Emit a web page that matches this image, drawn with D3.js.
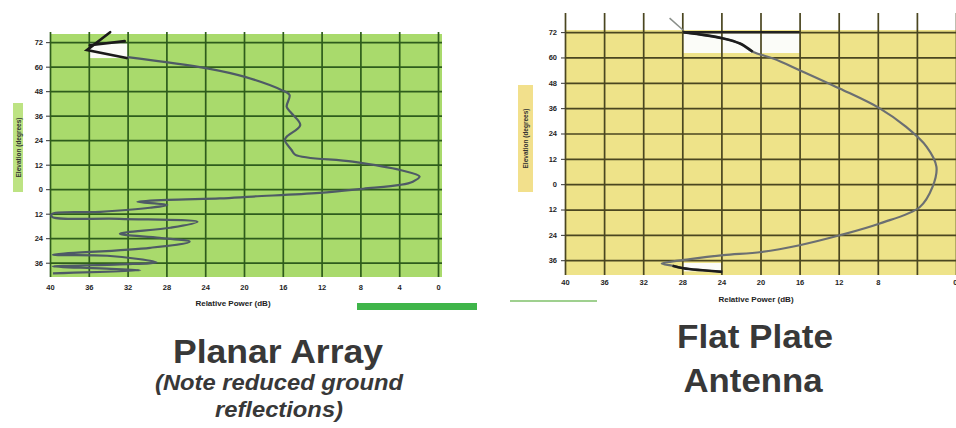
<!DOCTYPE html>
<html>
<head>
<meta charset="utf-8">
<script src="https://cdn.jsdelivr.net/npm/d3@7"></script>
<style>
  body { margin: 0; background: #fff; }
  svg { display: block; font-family: "Liberation Sans", Arial, sans-serif; }
</style>
</head>
<body>
<svg id="chart" width="956" height="428"></svg>
<script>
const svg = d3.select("#chart");

// shared axis ticks
const powerTicks = [-40, -36, -32, -28, -24, -20, -16, -12, -8, -4, 0];
const planarPowerLabels = ["40", "36", "32", "28", "24", "20", "16", "12", "8", "4", "0"];
const flatPowerLabels = ["40", "36", "32", "28", "24", "20", "16", "12", "8", "", "0"];
const elevTicks = [72, 60, 48, 36, 24, 12, 0, -12, -24, -36];
const elevLabels = ["72", "60", "48", "36", "24", "12", "0", "12", "24", "36"];

// [relative power dB, elevation deg]
const planarPattern = [
  [-32.0, 64.7], [-23.8, 59.2], [-19.9, 55.0], [-16.1, 48.5], [-15.3, 46.1],
  [-15.6, 40.4], [-15.1, 37.2], [-14.2, 31.4], [-15.6, 25.7], [-15.8, 24.1],
  [-15.1, 19.2], [-14.7, 16.8], [-8.8, 13.5], [-3.9, 9.4], [-1.9, 6.2],
  [-2.6, 3.7], [-3.9, 2.1], [-7.7, 0.2], [-12.2, -1.8], [-19.1, -3.6],
  [-22.5, -4.5], [-27.9, -5.2], [-31.0, -6.2], [-27.9, -7.7], [-29.7, -9.1],
  [-34.8, -11.1], [-39.8, -12.1], [-39.8, -13.5], [-32.8, -14.5], [-24.8, -16.0],
  [-27.6, -18.9], [-32.8, -21.8], [-28.7, -23.8], [-25.6, -25.7], [-29.7, -28.7],
  [-39.7, -32.1], [-34.1, -32.6], [-29.0, -35.8], [-32.8, -36.8], [-39.7, -37.8],
  [-34.8, -38.8], [-30.7, -39.7], [-39.7, -41.2]
];

const flatPattern = [
  [-27.9, 72.0], [-23.8, 69.0], [-22.1, 66.6], [-20.8, 62.7], [-18.7, 59.5],
  [-16.0, 54.0], [-11.9, 45.3], [-7.8, 35.9], [-5.1, 27.1], [-3.0, 17.7],
  [-2.0, 8.2], [-2.4, -1.3], [-3.7, -10.8], [-7.8, -18.6], [-11.9, -24.2],
  [-16.0, -28.9], [-19.9, -32.1], [-23.8, -33.6], [-27.2, -35.5], [-30.1, -37.6],
  [-29.0, -38.6], [-27.9, -39.8], [-23.9, -41.5]
];
// inked-over parts of the flat plate trace (index ranges)
const flatInked = [[0, 3], [20, 22]];

// hand annotations, in data units
const planarArrow = [[[-33.8, 76.9], [-36.2, 68.1], [-32.1, 64.2]], [[-35.9, 70.5], [-32.3, 72.5]]];
const planarPatch = [[-35.9, 72], [-32.0, 64.2]];
const flatMarks = [[[-27.9, 72], [-16.0, 72]], [[-29.3, 78.6], [-27.9, 72.9]]];
const flatPatches = [[[-27.9, 72], [-16.0, 62.1]], [[-27.9, -37.3], [-23.9, -41.3]]];

const panels = [
  {
    x0: 50, x1: 438, padRight: 4, y0: 34, y1: 277, gridTop: 32,
    elevDomain: [76, -43], bg: "#a9da6c", grid: "#2e5c1c",
    xLabels: planarPowerLabels, xLabelY: 283, titleX: 233, titleY: 306,
    yLabelX: 43, boxX: 13, boxW: 10, boxY: 103, boxH: 89, boxFill: "#bde383",
    pattern: planarPattern, inked: [], trace: "#4e5a66",
    arrows: planarArrow, marks: [], patches: [planarPatch]
  },
  {
    x0: 565, x1: 956, padRight: 0, y0: 30, y1: 275, gridTop: 13,
    elevDomain: [73, -43], bg: "#eee389", grid: "#4a4620",
    xLabels: flatPowerLabels, xLabelY: 278, titleX: 756, titleY: 302,
    yLabelX: 557, boxX: 518, boxW: 15, boxY: 85, boxH: 107, boxFill: "#f2e08c",
    pattern: flatPattern, inked: flatInked, trace: "#6b6f72",
    arrows: [], marks: flatMarks, patches: flatPatches
  }
];

panels.forEach(p => {
  const g = svg.append("g");
  const x = d3.scaleLinear().domain([-40, 0]).range([p.x0, p.x1]);
  const y = d3.scaleLinear().domain(p.elevDomain).range([p.y0, p.y1]);

  g.append("rect")
    .attr("x", p.x0).attr("y", p.y0)
    .attr("width", p.x1 - p.x0 + p.padRight).attr("height", p.y1 - p.y0)
    .attr("fill", p.bg);

  p.patches.forEach(r => {
    g.append("rect")
      .attr("x", x(r[0][0])).attr("y", y(r[0][1]))
      .attr("width", x(r[1][0]) - x(r[0][0])).attr("height", y(r[1][1]) - y(r[0][1]))
      .attr("fill", "#fbfcf8");
  });

  // vertical grid
  g.append("g")
    .attr("transform", `translate(0,${p.y1})`)
    .call(d3.axisBottom(x).tickValues(powerTicks).tickSize(-(p.y1 - p.gridTop)).tickFormat(""))
    .call(s => s.select(".domain").remove())
    .selectAll("line")
    .attr("stroke", p.grid).attr("stroke-width", 1.7);

  // horizontal grid
  g.append("g")
    .attr("transform", `translate(${p.x1 + p.padRight},0)`)
    .call(d3.axisLeft(y).tickValues(elevTicks).tickSize(p.x1 + p.padRight - p.x0).tickFormat(""))
    .call(s => s.select(".domain").remove())
    .selectAll("line")
    .attr("stroke", p.grid).attr("stroke-width", 1.7);

  // y labels with short tick dashes
  const ya = g.append("g")
    .attr("transform", `translate(${p.x0},0)`)
    .call(d3.axisLeft(y).tickValues(elevTicks).tickSize(4).tickPadding(p.x0 - p.yLabelX - 4)
      .tickFormat((d, i) => elevLabels[i]));
  ya.select(".domain").remove();
  ya.selectAll("line").attr("stroke", "#333");
  ya.selectAll("text")
    .attr("fill", "#1e1e1e").style("font-size", "7.5px").style("font-weight", "bold");

  // x labels
  const xa = g.append("g")
    .attr("transform", `translate(0,${p.xLabelY})`)
    .call(d3.axisBottom(x).tickValues(powerTicks).tickSize(0).tickPadding(2)
      .tickFormat((d, i) => p.xLabels[i]));
  xa.select(".domain").remove();
  xa.selectAll("text")
    .attr("fill", "#1e1e1e").style("font-size", "7.5px").style("font-weight", "bold");
  // keep the last label inside the page when the panel reaches the edge
  if (p.padRight === 0) {
    xa.selectAll("text").filter(d => d === 0).attr("text-anchor", "end").attr("dx", 1);
  }

  g.append("text")
    .attr("x", p.titleX).attr("y", p.titleY)
    .attr("text-anchor", "middle")
    .style("font-size", "8px").style("font-weight", "bold")
    .attr("fill", "#222")
    .text("Relative Power (dB)");

  // elevation label box
  g.append("rect")
    .attr("x", p.boxX).attr("y", p.boxY)
    .attr("width", p.boxW).attr("height", p.boxH)
    .attr("fill", p.boxFill);
  g.append("text")
    .attr("transform", `translate(${p.boxX + p.boxW / 2 + 2.5},${p.boxY + p.boxH / 2}) rotate(-90)`)
    .attr("text-anchor", "middle")
    .style("font-size", "6.5px").style("font-weight", "bold")
    .attr("fill", "#333")
    .text("Elevation (degrees)");

  const line = d3.line()
    .x(d => x(d[0]))
    .y(d => y(d[1]))
    .curve(d3.curveCatmullRom.alpha(0.5));

  g.append("path")
    .datum(p.pattern)
    .attr("fill", "none")
    .attr("stroke", p.trace)
    .attr("stroke-width", 2.2)
    .attr("stroke-linejoin", "round")
    .attr("d", line);

  p.inked.forEach(([a, b]) => {
    g.append("path")
      .datum(p.pattern.slice(a, b + 1))
      .attr("fill", "none")
      .attr("stroke", "#1c1c1c")
      .attr("stroke-width", 2.6)
      .attr("d", line);
  });

  const straight = d3.line().x(d => x(d[0])).y(d => y(d[1]));
  p.arrows.forEach(a => {
    g.append("path").datum(a)
      .attr("fill", "none").attr("stroke", "#1a1a1a")
      .attr("stroke-width", 2.6).attr("stroke-linecap", "round")
      .attr("d", straight);
  });
  p.marks.forEach((m, i) => {
    g.append("path").datum(m)
      .attr("fill", "none").attr("stroke", i === 0 ? "#222" : "#8a8f8a")
      .attr("stroke-width", i === 0 ? 2.4 : 1.5)
      .attr("d", straight);
  });
});

// captions
const captions = [
  { text: "Planar Array", x: 278, y: 363, size: 34, w: 210, italic: false },
  { text: "(Note reduced ground", x: 279, y: 390, size: 22, w: 248, italic: true },
  { text: "reflections)", x: 279, y: 417, size: 22, w: 128, italic: true },
  { text: "Flat Plate", x: 755, y: 348, size: 34, w: 156, italic: false },
  { text: "Antenna", x: 753, y: 392, size: 34, w: 139, italic: false }
];

svg.selectAll(".caption")
  .data(captions)
  .enter()
  .append("text")
  .attr("class", "caption")
  .attr("x", d => d.x).attr("y", d => d.y)
  .attr("text-anchor", "middle")
  .attr("textLength", d => d.w)
  .attr("lengthAdjust", "spacingAndGlyphs")
  .style("font-size", d => d.size + "px")
  .style("font-weight", "bold")
  .style("font-style", d => d.italic ? "italic" : "normal")
  .attr("fill", "#383838")
  .text(d => d.text);

// decorative strokes between the panels
svg.append("rect")
  .attr("x", 357).attr("y", 303).attr("width", 120).attr("height", 7)
  .attr("fill", "#3fb54a");
svg.append("line")
  .attr("x1", 510).attr("x2", 597).attr("y1", 301).attr("y2", 301)
  .attr("stroke", "#9fd08f").attr("stroke-width", 2);
</script>
</body>
</html>
